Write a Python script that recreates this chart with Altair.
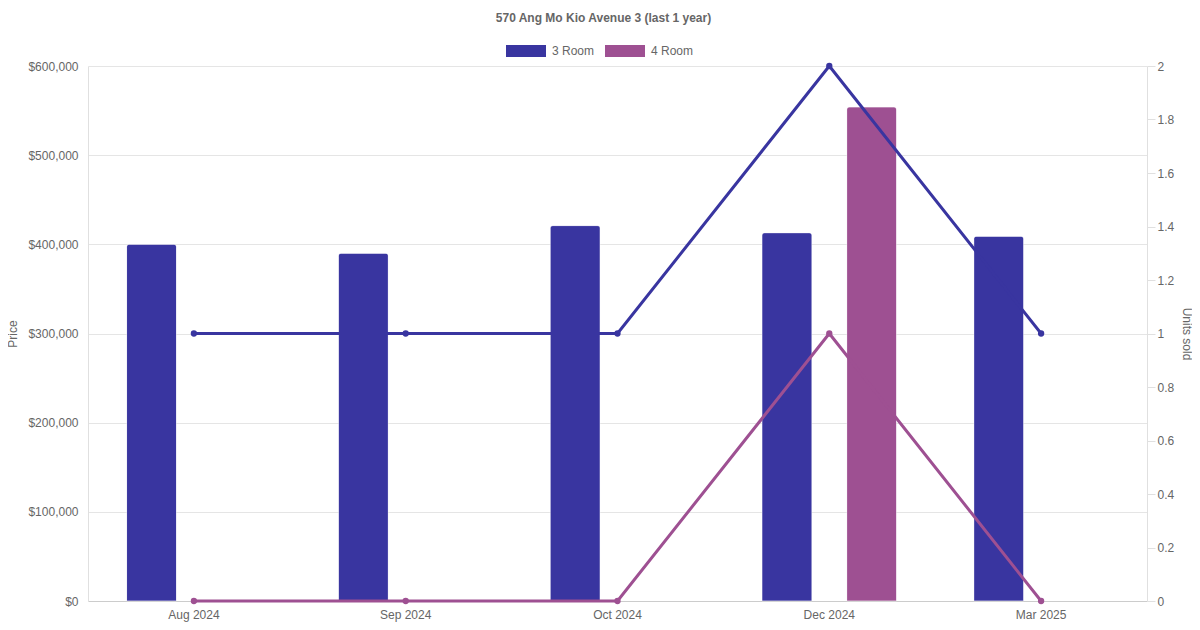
import altair as alt
import pandas as pd

months = ["Aug 2024", "Sep 2024", "Oct 2024", "Dec 2024", "Mar 2025"]
room_types = ["3 Room", "4 Room"]

# average prices (bars)
bar_months = ["Aug 2024", "Sep 2024", "Oct 2024", "Dec 2024", "Dec 2024", "Mar 2025"]
bar_types = ["3 Room", "3 Room", "3 Room", "3 Room", "4 Room", "3 Room"]
bar_prices = [400000, 390000, 421000, 413000, 554000, 409000]

# units sold (lines)
units_3room = [1, 1, 1, 2, 1]
units_4room = [0, 0, 0, 1, 0]

colors = ["#3935a0", "#9e5092"]
FONT = "Liberation Sans"
GREY = "#666666"

bars_df = pd.DataFrame({"month": bar_months, "type": bar_types, "price": bar_prices})
lines_df = pd.DataFrame({
    "month": months * 2,
    "type": ["3 Room"] * len(months) + ["4 Room"] * len(months),
    "units": units_3room + units_4room,
})

x_enc = alt.X("month:O", sort=months, title=None,
              scale=alt.Scale(paddingInner=0, paddingOuter=0),
              axis=alt.Axis(labelAngle=0, ticks=False, labelPadding=8,
                            domainColor="#cccccc", grid=False))
color_enc = alt.Color("type:N", scale=alt.Scale(domain=room_types, range=colors),
                      title=None,
                      legend=alt.Legend(orient="none", legendX=418, legendY=-35,
                                        direction="horizontal",
                                        symbolType="M-1,-0.3L1,-0.3L1,0.3L-1,0.3Z",
                                        symbolSize=1600, symbolStrokeWidth=0,
                                        labelFontSize=12, labelColor=GREY,
                                        labelFont=FONT, columnPadding=10,
                                        labelOffset=6))

bars = alt.Chart(bars_df).mark_bar(
    cornerRadiusTopLeft=3, cornerRadiusTopRight=3, stroke="#ffffff", strokeOpacity=0.35, strokeWidth=1
).encode(
    x=x_enc,
    xOffset=alt.XOffset("type:N", scale=alt.Scale(domain=room_types, paddingInner=0.41, paddingOuter=0.455)),
    y=alt.Y("price:Q", title="Price",
            scale=alt.Scale(domain=[0, 600000], nice=False),
            axis=alt.Axis(orient="left", format="$,.0f",
                          values=[0, 100000, 200000, 300000, 400000, 500000, 600000],
                          ticks=False, labelPadding=10, gridColor="#e5e5e5",
                          domainColor="#e0e0e0", titlePadding=8)),
    color=color_enc,
)

lines = alt.Chart(lines_df).mark_line(strokeWidth=3).encode(
    x=alt.X("month:O", sort=months),
    y=alt.Y("units:Q", title="Units sold",
            scale=alt.Scale(domain=[0, 2], nice=False),
            axis=alt.Axis(orient="right", grid=False, format=".1~f",
                          values=[0, 0.2, 0.4, 0.6, 0.8, 1, 1.2, 1.4, 1.6, 1.8, 2],
                          tickSize=8, tickColor="#e0e0e0", domainColor="#e0e0e0",
                          labelPadding=2, titlePadding=6)),
    color=alt.Color("type:N", scale=alt.Scale(domain=room_types, range=colors), legend=None),
)
points = alt.Chart(lines_df).mark_point(filled=True, size=40, opacity=1).encode(
    x=alt.X("month:O", sort=months),
    y=alt.Y("units:Q"),
    color=alt.Color("type:N", scale=alt.Scale(domain=room_types, range=colors), legend=None),
)

line_layer = alt.layer(lines, points)

chart = alt.layer(bars, line_layer).resolve_scale(y="independent").properties(
    width=1059, height=535,
    title=alt.TitleParams("570 Ang Mo Kio Avenue 3 (last 1 year)", fontSize=12,
                          fontWeight="bold", color=GREY, font=FONT,
                          anchor="middle", frame="group", dx=-14, dy=-6, offset=0),
    autosize=alt.AutoSizeParams(type="none"),
    padding={"left": 80, "top": 58, "right": 45, "bottom": 21},
).configure_view(stroke=None).configure_axis(
    labelFont=FONT, titleFont=FONT, labelFontSize=12, titleFontSize=12,
    labelColor=GREY, titleColor=GREY, titleFontWeight="normal"
)

chart.save("out.html", embed_options={"renderer": "svg", "actions": False})
